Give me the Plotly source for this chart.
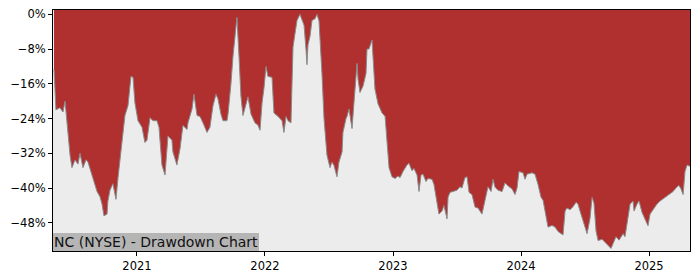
import plotly.graph_objects as go

# decimal years and drawdown in percent
years = [
    2020.352, 2020.359, 2020.367, 2020.398, 2020.422, 2020.438, 2020.453, 2020.477, 2020.492, 2020.516,
    2020.539, 2020.555, 2020.578, 2020.602, 2020.617, 2020.648, 2020.688, 2020.711, 2020.727, 2020.742,
    2020.766, 2020.773, 2020.789, 2020.812, 2020.836, 2020.852, 2020.883, 2020.906, 2020.930, 2020.953,
    2020.969, 2020.984, 2021.008, 2021.039, 2021.062, 2021.078, 2021.102, 2021.125, 2021.156, 2021.172,
    2021.195, 2021.219, 2021.242, 2021.273, 2021.281, 2021.312, 2021.336, 2021.359, 2021.391, 2021.398,
    2021.430, 2021.445, 2021.469, 2021.492, 2021.516, 2021.547, 2021.570, 2021.594, 2021.617, 2021.633,
    2021.656, 2021.672, 2021.703, 2021.711, 2021.734, 2021.750, 2021.773, 2021.781, 2021.797, 2021.812,
    2021.828, 2021.852, 2021.867, 2021.891, 2021.922, 2021.945, 2021.961, 2021.977, 2021.992, 2022.008,
    2022.023, 2022.055, 2022.070, 2022.102, 2022.133, 2022.148, 2022.164, 2022.180, 2022.203, 2022.211,
    2022.219, 2022.234, 2022.250, 2022.273, 2022.289, 2022.305, 2022.320, 2022.328, 2022.336, 2022.352,
    2022.367, 2022.391, 2022.406, 2022.422, 2022.445, 2022.461, 2022.484, 2022.508, 2022.523, 2022.539,
    2022.562, 2022.578, 2022.602, 2022.609, 2022.633, 2022.641, 2022.656, 2022.680, 2022.695, 2022.719,
    2022.727, 2022.742, 2022.766, 2022.789, 2022.797, 2022.812, 2022.836, 2022.844, 2022.859, 2022.883,
    2022.898, 2022.914, 2022.938, 2022.953, 2022.969, 2022.992, 2023.016, 2023.039, 2023.055, 2023.078,
    2023.109, 2023.125, 2023.148, 2023.164, 2023.188, 2023.203, 2023.219, 2023.234, 2023.258, 2023.273,
    2023.305, 2023.320, 2023.344, 2023.359, 2023.383, 2023.398, 2023.422, 2023.430, 2023.445, 2023.469,
    2023.500, 2023.523, 2023.539, 2023.562, 2023.578, 2023.594, 2023.617, 2023.641, 2023.664, 2023.695,
    2023.711, 2023.734, 2023.742, 2023.766, 2023.781, 2023.797, 2023.820, 2023.852, 2023.875, 2023.898,
    2023.930, 2023.953, 2023.969, 2023.984, 2024.016, 2024.031, 2024.047, 2024.086, 2024.109, 2024.133,
    2024.156, 2024.172, 2024.195, 2024.211, 2024.242, 2024.266, 2024.289, 2024.320, 2024.328, 2024.344,
    2024.359, 2024.383, 2024.406, 2024.430, 2024.445, 2024.461, 2024.484, 2024.516, 2024.539, 2024.555,
    2024.570, 2024.586, 2024.602, 2024.633, 2024.656, 2024.680, 2024.703, 2024.719, 2024.742, 2024.766,
    2024.797, 2024.812, 2024.828, 2024.852, 2024.875, 2024.883, 2024.906, 2024.922, 2024.945, 2024.969,
    2024.992, 2025.008, 2025.031, 2025.062, 2025.086, 2025.109, 2025.141, 2025.164, 2025.188, 2025.219,
    2025.234, 2025.250, 2025.266, 2025.281, 2025.297, 2025.320,
]
drawdown = [
    -12.7, -18.0, -22.0, -21.5, -22.5, -20.0, -25.0, -32.4, -35.3, -33.5,
    -34.5, -32.0, -35.3, -33.5, -34.0, -37.0, -40.8, -42.0, -43.7, -46.4,
    -46.0, -43.0, -40.5, -39.0, -42.6, -37.6, -30.0, -23.3, -21.0, -14.3,
    -14.5, -20.4, -24.5, -26.0, -29.5, -29.0, -23.8, -24.5, -24.5, -26.0,
    -34.7, -37.0, -28.0, -29.0, -31.7, -34.7, -31.0, -25.6, -26.5, -25.0,
    -21.8, -18.4, -23.3, -23.5, -25.0, -27.2, -26.0, -21.0, -18.4, -19.5,
    -23.0, -24.5, -24.5, -23.0, -16.0, -9.7, -3.0, -0.7, -9.7, -18.8,
    -23.3, -21.0, -19.0, -23.0, -25.0, -25.5, -26.7, -20.4, -17.0, -12.0,
    -14.3, -14.5, -22.7, -23.5, -24.5, -27.2, -23.5, -24.5, -25.0, -16.0,
    -7.5, -4.5, -1.4, 0.0, -1.4, -2.5, -8.0, -11.6, -7.0, -5.0,
    -1.4, -1.0, 0.0, -1.5, -13.6, -24.0, -32.4, -35.3, -34.0, -34.8,
    -37.4, -34.0, -31.7, -27.2, -24.0, -23.5, -21.8, -26.3, -20.4, -11.3,
    -15.0, -18.0, -16.5, -13.6, -8.0, -8.0, -5.9, -9.7, -17.2, -20.6,
    -21.5, -22.7, -23.5, -28.6, -35.3, -37.4, -37.8, -37.2, -37.6, -36.2,
    -34.7, -34.3, -36.0, -35.5, -37.0, -40.8, -37.0, -36.8, -38.5, -37.8,
    -38.0, -39.2, -43.3, -46.0, -45.3, -44.0, -47.1, -42.1, -41.0, -40.8,
    -40.5, -39.7, -40.0, -37.6, -37.4, -41.0, -41.5, -44.4, -44.6, -46.0,
    -43.7, -40.8, -39.7, -40.8, -38.0, -39.8, -40.5, -40.8, -38.8, -39.5,
    -40.2, -41.5, -40.0, -36.2, -36.5, -38.0, -36.8, -36.5, -36.8, -39.2,
    -42.1, -42.8, -46.7, -49.0, -48.6, -49.0, -50.0, -50.5, -50.8, -45.3,
    -44.6, -45.0, -44.3, -43.3, -43.7, -45.3, -47.6, -50.5, -47.0, -42.1,
    -43.5, -49.9, -52.1, -51.8, -52.5, -53.3, -53.9, -52.8, -51.2, -52.0,
    -50.5, -51.2, -48.3, -43.7, -43.0, -45.3, -43.7, -43.0, -45.6, -47.0,
    -48.7, -46.0, -45.0, -43.7, -43.0, -42.5, -42.0, -41.5, -40.8, -39.7,
    -39.4, -40.2, -41.5, -36.2, -34.7, -35.0,
]
year_ticks = [2021, 2022, 2023, 2024, 2025]
year_labels = ["2021", "2022", "2023", "2024", "2025"]
pct_ticks = [0, -8, -16, -24, -32, -40, -48]
pct_labels = ["0%", "\u22128%", "\u221216%", "\u221224%", "\u221232%", "\u221240%", "\u221248%"]
title_text = "NC (NYSE) - Drawdown Chart"

Y_TOP = 1.0
Y_BOTTOM = -54.5
RED = "#b03030"

fig = go.Figure()
fig.add_trace(go.Scatter(x=years, y=[Y_TOP] * len(years), mode="lines",
                         line=dict(width=0, color=RED), hoverinfo="skip", showlegend=False))
fig.add_trace(go.Scatter(x=years, y=drawdown, mode="lines", fill="tonexty",
                         fillcolor=RED, line=dict(color="#8a8a8a", width=1),
                         showlegend=False))

axis_common = dict(showgrid=False, zeroline=False, showline=True, linecolor="black",
                   linewidth=1, mirror=True, ticks="outside", ticklen=4,
                   tickcolor="black", tickfont=dict(family="DejaVu Sans", size=11.5, color="black"))

fig.update_layout(
    width=700, height=280,
    margin=dict(l=53, r=10, t=7, b=28),
    paper_bgcolor="white",
    plot_bgcolor="#ececec",
    xaxis=dict(range=[2020.344, 2025.320], tickvals=year_ticks, ticktext=year_labels, **axis_common),
    yaxis=dict(range=[Y_BOTTOM, Y_TOP], tickvals=pct_ticks, ticktext=pct_labels, **axis_common),
    annotations=[dict(text=title_text, xref="paper", yref="paper", x=0, y=0,
                      xanchor="left", yanchor="bottom", showarrow=False,
                      font=dict(family="DejaVu Sans", size=14, color="#111111"),
                      bgcolor="#b5b5b5", borderpad=1, borderwidth=0)],
)

fig.write_html("out.html")
